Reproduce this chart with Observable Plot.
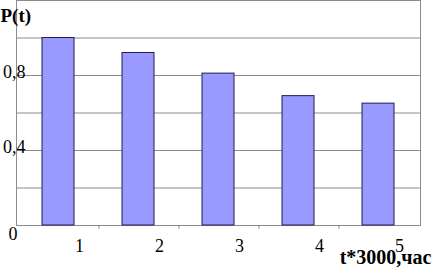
<!DOCTYPE html>
<html><head><meta charset="utf-8">
<script src="https://cdn.jsdelivr.net/npm/d3@7"></script>
<script src="https://cdn.jsdelivr.net/npm/@observablehq/plot@0.6"></script>
<style>body{margin:0;background:#fff;}</style>
</head><body><div id="chart"></div>
<script>
const categories = [1, 2, 3, 4, 5];
const values = [1.0, 0.92, 0.81, 0.69, 0.65];
const gridValues = [0.2, 0.4, 0.6, 0.8, 1.0, 1.2];
const yTicks = [0.4, 0.8];
const yTickLabels = ["0,4", "0,8"];
const zeroLabel = "0";
const yTitle = "P(t)";
const xTitle = "t*3000,час";
const serif = "Liberation Serif";

const data = categories.map((c, i) => ({t: c, p: values[i]}));

const chart = Plot.plot({
  width: 433, height: 270,
  marginLeft: 16, marginRight: 13, marginTop: 0, marginBottom: 45,
  style: {fontFamily: serif, fontSize: "17px", background: "#fff", overflow: "visible"},
  x: {type: "band", domain: categories, paddingInner: 0.6, paddingOuter: 0.3, axis: null},
  y: {domain: [0, 1.2], axis: null},
  marks: [
    Plot.ruleY(gridValues, {stroke: "#8c8c8c", strokeWidth: 1}),
    Plot.frame({stroke: "#8c8c8c"}),
    Plot.ruleX(categories.slice(0, 4), {x: d => d, y1: 0, y2: -0.02, dx: 40.4, stroke: "#8c8c8c"}),
    Plot.barY(data, {x: "t", y: "p", fill: "#9999ff", stroke: "#1e1e50", strokeWidth: 1}),
    Plot.text(categories, {x: d => d, text: d => String(d), frameAnchor: "bottom", dx: 21, dy: 21, lineAnchor: "middle", fontSize: 18, fontFamily: serif}),
    Plot.text(yTicks, {y: d => d, text: (d, i) => yTickLabels[i], frameAnchor: "left", textAnchor: "end", dx: 9, dy: -3, lineAnchor: "middle", fontSize: 18, fontFamily: serif}),
    Plot.text([zeroLabel], {text: d => d, frameAnchor: "bottom-left", textAnchor: "end", dx: 1, dy: 8.5, lineAnchor: "middle", fontSize: 18, fontFamily: serif}),
    Plot.text([yTitle], {text: d => d, frameAnchor: "top-left", textAnchor: "start", dx: -16, dy: 15, lineAnchor: "middle", fontSize: 19, fontWeight: "bold", fontFamily: serif}),
    Plot.text([xTitle], {text: d => d, frameAnchor: "bottom-right", textAnchor: "end", dx: 11, dy: 32.5, lineAnchor: "middle", fontSize: 20, fontWeight: "bold", fontFamily: serif})
  ]
});
document.getElementById("chart").appendChild(chart);
</script>
</body></html>
